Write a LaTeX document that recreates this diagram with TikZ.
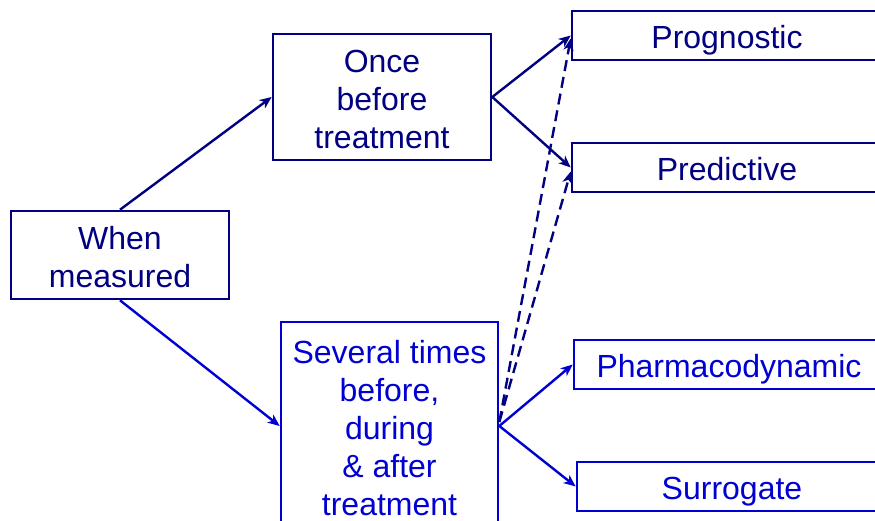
\documentclass[tikz,border=0pt]{standalone}
\usepackage{fontspec}
\setmainfont{Liberation Sans}
\usetikzlibrary{arrows.meta}
\definecolor{navyink}{RGB}{0,0,128}
\definecolor{blueink}{RGB}{0,0,210}
% centred lines of box text, set a little below the box's middle
\newcommand\boxtext[1]{\raisebox{-5.4pt}[\height][\depth]{\begin{tabular}{@{}c@{}}#1\end{tabular}}}
\tikzset{
  box/.style={draw, rectangle, line width=2.6pt, inner sep=0pt,
    font=\fontsize{32}{38}\selectfont},
  navybox/.style={box, draw=navyink, text=navyink},
  bluebox/.style={box, draw=blueink, text=blueink},
  link/.style={line width=2.4pt, -{Stealth[length=12pt,width=10pt,inset=3.5pt]}},
  navylink/.style={link, draw=navyink},
  bluelink/.style={link, draw=blueink},
  dashlink/.style={navylink, dash pattern=on 11pt off 6pt},
}
\begin{document}
\begin{tikzpicture}[x=1pt,y=-1pt]
\useasboundingbox (0,0) rectangle (875,520);
\clip (0,0) rectangle (875,520);

% left column
\node[navybox, minimum width=218pt, minimum height=88pt] (when) at (120,255) {\boxtext{When\\measured}};

% middle column
\node[navybox, minimum width=218pt, minimum height=126pt] (once) at (382,97) {\boxtext{Once\\before\\treatment}};
\node[bluebox, minimum width=217pt, minimum height=208pt] (several) at (389.5,426) {\boxtext{Several times\\before,\\during\\\& after\\treatment}};

% right column
\node[navybox, minimum width=310pt, minimum height=49pt] (prog) at (727,35.5) {\boxtext{Prognostic}};
\node[navybox, minimum width=310pt, minimum height=49pt] (pred) at (727,167.5) {\boxtext{Predictive}};
\node[bluebox, minimum width=310pt, minimum height=49pt] (pharm) at (729,364.5) {\boxtext{Pharmacodynamic}};
\node[bluebox, minimum width=310pt, minimum height=49pt] (surr) at (732,486.5) {\boxtext{Surrogate}};

% connectors
\draw[navylink] (when.north) -- (once.west);
\draw[bluelink] (when.south) -- (several.west);
\draw[navylink] (once.east) -- (prog.west);
\draw[navylink] (once.east) -- (pred.west);
\draw[bluelink] (several.east) -- (pharm.west);
\draw[bluelink] (several.east) -- (surr.west);
\draw[dashlink] ([yshift=4pt]several.east) -- ([yshift=-3pt]prog.west);
\draw[dashlink] ([yshift=4pt]several.east) -- ([yshift=-4pt]pred.west);
\end{tikzpicture}
\end{document}
